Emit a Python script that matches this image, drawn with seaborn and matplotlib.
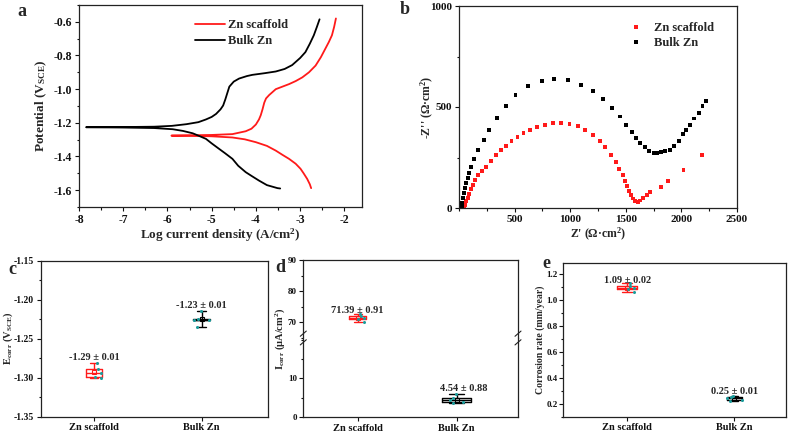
import numpy as np
import pandas as pd
import matplotlib
matplotlib.use("Agg")
import matplotlib.pyplot as plt
from matplotlib.ticker import MultipleLocator, FormatStrFormatter
import seaborn as sns

# ---------------- data ----------------
# (a) potentiodynamic polarization curves, ordered by scan (potential increasing)
bulk_logi = [-3.45, -3.51, -3.75, -3.93, -4.10, -4.23, -4.40, -4.53, -4.70, -4.83, -5.00,
             -5.13, -5.30, -5.43, -5.65, -5.88, -6.30, -7.00, -7.84, -7.00, -6.30, -5.90,
             -5.57, -5.30, -5.13, -5.00, -4.90, -4.80, -4.74, -4.69, -4.64, -4.60, -4.50,
             -4.38, -4.20, -4.08, -3.80, -3.55, -3.35, -3.18, -3.00, -2.88, -2.78, -2.69,
             -2.62, -2.56]
bulk_E = [-1.590, -1.588, -1.570, -1.543, -1.515, -1.493, -1.455, -1.414, -1.380, -1.355, -1.322,
          -1.295, -1.276, -1.262, -1.248, -1.238, -1.231, -1.228, -1.226, -1.225, -1.223, -1.218,
          -1.208, -1.196, -1.180, -1.165, -1.147, -1.120, -1.097, -1.060, -1.018, -0.985, -0.955,
          -0.937, -0.922, -0.915, -0.905, -0.895, -0.880, -0.857, -0.815, -0.780, -0.730, -0.680,
          -0.630, -0.585]
scaf_logi = [-2.75, -2.78, -2.84, -2.92, -2.99, -3.10, -3.25, -3.40, -3.55, -3.75, -4.00,
             -4.25, -4.53, -5.00, -5.50, -5.91, -5.50, -5.00, -4.53, -4.23, -4.10, -4.00,
             -3.93, -3.89, -3.85, -3.81, -3.77, -3.70, -3.55, -3.40, -3.25, -3.10, -2.95,
             -2.80, -2.65, -2.53, -2.43, -2.35, -2.28, -2.23, -2.19]
scaf_E = [-1.588, -1.565, -1.533, -1.500, -1.473, -1.443, -1.414, -1.390, -1.365, -1.337, -1.315,
          -1.298, -1.287, -1.280, -1.277, -1.276, -1.274, -1.272, -1.267, -1.250, -1.235, -1.210,
          -1.180, -1.155, -1.120, -1.080, -1.055, -1.035, -1.000, -0.985, -0.970, -0.952, -0.930,
          -0.900, -0.860, -0.810, -0.760, -0.720, -0.680, -0.630, -0.580]

# (b) Nyquist plots
bulk_zre = [25, 31, 37, 46, 55, 67, 79, 94, 112, 133, 169, 223, 268, 343, 421, 508, 618, 744,
            858, 981, 1098, 1202, 1296, 1379, 1445, 1505, 1553, 1595, 1631, 1669, 1709, 1750,
            1781, 1817, 1855, 1894, 1930, 1975, 2014, 2044, 2080, 2116, 2155, 2190, 2224]
bulk_zim = [3, 25, 50, 75, 100, 125, 150, 175, 205, 242, 288, 337, 388, 445, 503, 558, 603, 628,
            638, 632, 610, 580, 540, 497, 453, 413, 378, 348, 323, 300, 283, 273,
            271, 275, 282, 288, 305, 333, 367, 387, 413, 443, 472, 503, 530]
scaf_zre = [46, 55, 67, 79, 94, 109, 127, 148, 175, 211, 244, 286, 331, 376, 421, 472, 526, 580,
            640, 700, 772, 844, 916, 994, 1066, 1135, 1201, 1264, 1315, 1366, 1408, 1441, 1471,
            1495, 1513, 1528, 1546, 1564, 1585, 1606, 1630, 1657, 1687, 1720, 1816, 1876, 2019, 2189]
scaf_zim = [0, 17, 33, 50, 70, 92, 113, 137, 162, 183, 205, 233, 262, 287, 308, 330, 350, 370,
            387, 400, 413, 420, 422, 418, 407, 388, 362, 333, 300, 263, 228, 195, 163,
            133, 107, 83, 63, 47, 33, 28, 37, 50, 63, 78, 105, 133, 188, 262]

groups = ["Zn scaffold", "Bulk Zn"]
# (c) E_corr
ecorr_scaf = [-1.300, -1.2995, -1.294, -1.289, -1.281]
ecorr_bulk = [-1.235, -1.2265, -1.2258, -1.225, -1.214]
ecorr_text = ["-1.29 ± 0.01", "-1.23 ± 0.01"]
# (d) I_corr
icorr_scaf = [70.0, 71.0, 71.3, 72.0, 72.6]
icorr_bulk = [3.7, 3.8, 4.3, 4.9, 6.0]
icorr_text = ["71.39 ± 0.91", "4.54 ± 0.88"]
# (e) corrosion rate
rate_scaf = [1.064, 1.085, 1.098, 1.110, 1.130]
rate_bulk = [0.220, 0.230, 0.242, 0.253, 0.262]
rate_text = ["1.09 ± 0.02", "0.25 ± 0.01"]

# ---------------- style ----------------
sns.set_theme(style="ticks")
plt.rcParams["font.family"] = ["Liberation Serif", "DejaVu Serif"]
plt.rcParams["font.weight"] = "bold"
plt.rcParams["axes.labelweight"] = "bold"
plt.rcParams["mathtext.fontset"] = "custom"
plt.rcParams["mathtext.rm"] = "Liberation Serif:bold"
plt.rcParams["mathtext.it"] = "Liberation Serif:bold:italic"
plt.rcParams["mathtext.bf"] = "Liberation Serif:bold"
plt.rcParams["axes.linewidth"] = 0.9
plt.rcParams["axes.edgecolor"] = "#222222"

RED = "#ff1a1a"
BLACK = "#000000"
TEAL = "#1a9c9c"

W, H = 789, 433
fig = plt.figure(figsize=(W / 100, H / 100), dpi=100)


def px_axes(l, t, r, b):
    return fig.add_axes([l / W, (H - b) / H, (r - l) / W, (b - t) / H])


def style_ticks(ax, size):
    ax.tick_params(which="both", direction="out", width=0.8, labelsize=size, colors="#111111",
                   top=False, right=False)
    ax.tick_params(which="major", length=3.2, pad=1.5)
    ax.tick_params(which="minor", length=1.8)


# ---------------- (a) ----------------
axa = px_axes(79, 5, 362, 207)
df_a = pd.concat([
    pd.DataFrame({"logi": scaf_logi, "E": scaf_E, "sample": "Zn scaffold"}),
    pd.DataFrame({"logi": bulk_logi, "E": bulk_E, "sample": "Bulk Zn"}),
], ignore_index=True)
sns.lineplot(data=df_a, x="logi", y="E", hue="sample", hue_order=groups,
             palette=[RED, BLACK], sort=False, estimator=None, linewidth=1.3, ax=axa)
axa.set_xlim(-8, -1.6)
axa.set_ylim(-1.7, -0.5)
axa.xaxis.set_major_locator(MultipleLocator(1))
axa.xaxis.set_minor_locator(MultipleLocator(0.5))
axa.yaxis.set_major_locator(MultipleLocator(0.2))
axa.yaxis.set_minor_locator(MultipleLocator(0.1))
axa.yaxis.set_major_formatter(FormatStrFormatter("%.1f"))
axa.xaxis.set_major_formatter(FormatStrFormatter("%d"))
axa.set_yticks([-1.6, -1.4, -1.2, -1.0, -0.8, -0.6])
style_ticks(axa, 8.5)
axa.set_xlabel("Log current density (A/cm$^{2}$)", fontsize=9.5)
axa.set_ylabel("Potential (V$_{\\mathrm{SCE}}$)", fontsize=9.5)
axa.xaxis.set_label_coords(0.5, -0.095)
axa.yaxis.set_label_coords(-0.106, 0.5)
sns.move_legend(axa, "upper left", bbox_to_anchor=(0.37, 0.985), frameon=False, title=None,
                fontsize=9, handlelength=2.4, labelspacing=0.3, handletextpad=0.25)

# ---------------- (b) ----------------
axb = px_axes(459, 6, 737, 208)
df_b = pd.concat([
    pd.DataFrame({"Zr": scaf_zre, "Zi": scaf_zim, "sample": "Zn scaffold"}),
    pd.DataFrame({"Zr": bulk_zre, "Zi": bulk_zim, "sample": "Bulk Zn"}),
], ignore_index=True)
sns.scatterplot(data=df_b, x="Zr", y="Zi", hue="sample", hue_order=groups,
                palette=[RED, BLACK], marker="s", s=8, linewidth=0, ax=axb)
axb.set_xlim(0, 2500)
axb.set_ylim(0, 1000)
axb.set_xticks([500, 1000, 1500, 2000, 2500])
axb.xaxis.set_minor_locator(MultipleLocator(250))
axb.set_yticks([0, 500, 1000])
axb.yaxis.set_minor_locator(MultipleLocator(250))
style_ticks(axb, 8)
axb.set_xlabel("Z' (Ω·cm$^{2}$)", fontsize=8.5)
axb.set_ylabel("-Z'' (Ω·cm$^{2}$)", fontsize=8.5)
axb.xaxis.set_label_coords(0.5, -0.09)
axb.yaxis.set_label_coords(-0.082, 0.5)
sns.move_legend(axb, "upper left", bbox_to_anchor=(0.575, 0.975), frameon=False, title=None,
                fontsize=9, handlelength=1.0, labelspacing=0.25, handletextpad=0.9, markerscale=1.0)


# ---------------- box panels ----------------
def box_panel(ax, scaf, bulk, widths):
    df = pd.DataFrame({"group": [groups[0]] * len(scaf) + [groups[1]] * len(bulk),
                       "value": list(scaf) + list(bulk)})
    for g, c, w in zip(groups, [RED, BLACK], widths):
        sub = df[df["group"] == g]
        sns.boxplot(data=sub, x="group", y="value", order=groups, width=w, whis=(0, 100),
                    fill=False, color=c, linewidth=1.0, showmeans=True,
                    meanprops=dict(marker="s", markersize=2.2, markerfacecolor="none",
                                   markeredgecolor=c, markeredgewidth=0.8), ax=ax)
    np.random.seed(4)
    sns.stripplot(data=df, x="group", y="value", order=groups, color=TEAL, size=2.2,
                  jitter=0.07, linewidth=0, ax=ax)
    ax.set_xlabel("")
    ax.set_ylabel("")


def box_ticks(ax, xlim, ysize=7):
    ax.set_xlim(*xlim)
    style_ticks(ax, ysize)
    for lab in ax.get_xticklabels():
        lab.set_fontsize(7.5)


# (c)
axc = px_axes(40.7, 260.7, 268.3, 416.7)
box_panel(axc, ecorr_scaf, ecorr_bulk, [0.15, 0.16])
axc.set_ylim(-1.35, -1.15)
axc.yaxis.set_major_locator(MultipleLocator(0.05))
axc.yaxis.set_minor_locator(MultipleLocator(0.025))
axc.yaxis.set_major_formatter(FormatStrFormatter("%.2f"))
box_ticks(axc, (-0.5, 1.62))
axc.set_ylabel("E$_{\\mathrm{corr}}$ (V$_{\\mathrm{SCE}}$)", fontsize=7.5)
axc.yaxis.set_label_coords(-0.115, 0.5)
for i, (yv, t) in enumerate(zip([-1.2745, -1.208], ecorr_text)):
    axc.text(i, yv, t, ha="center", va="center", fontsize=7.5, fontweight="bold")

# (d) broken axis
axd_top = px_axes(303.3, 260, 518, 338)
axd_bot = px_axes(303.3, 338, 518, 417)
box_panel(axd_top, icorr_scaf, icorr_bulk, [0.17, 0.29])
box_panel(axd_bot, icorr_scaf, icorr_bulk, [0.17, 0.29])
axd_top.set_ylim(65, 90)
axd_top.set_yticks([70, 80, 90])
axd_top.yaxis.set_minor_locator(MultipleLocator(5))
axd_bot.set_ylim(0, 20.5)
axd_bot.set_yticks([0, 10])
axd_bot.yaxis.set_minor_locator(MultipleLocator(5))
box_ticks(axd_top, (-0.55, 1.62), ysize=6.5)
box_ticks(axd_bot, (-0.55, 1.62), ysize=6.5)
axd_top.spines["bottom"].set_visible(False)
axd_bot.spines["top"].set_visible(False)
axd_top.tick_params(axis="x", which="both", bottom=False, labelbottom=False)
axd_top.text(0, 73.9, icorr_text[0], ha="center", va="center", fontsize=7.5, fontweight="bold")
axd_bot.text(1.07, 7.4, icorr_text[1], ha="center", va="center", fontsize=7.5, fontweight="bold")
# break marks
for xa in (0.0, 1.0):
    for dy in (-0.010, 0.010):
        fig.lines.append(matplotlib.lines.Line2D(
            [(303.3 + xa * 214.7 - 3) / W, (303.3 + xa * 214.7 + 3) / W],
            [(H - 338) / H + dy - 0.006, (H - 338) / H + dy + 0.006],
            transform=fig.transFigure, color="#222222", lw=0.8))
fig.text(280.5 / W, (H - 338.5) / H, "I$_{\\mathrm{corr}}$ (μA/cm$^{2}$)", rotation=90,
         ha="center", va="center", fontsize=7.5, fontweight="bold")

# (e)
axe = px_axes(562.7, 262.7, 786, 416.7)
box_panel(axe, rate_scaf, rate_bulk, [0.19, 0.14])
axe.set_ylim(0.1, 1.29)
axe.set_yticks([0.2, 0.4, 0.6, 0.8, 1.0, 1.2])
axe.yaxis.set_minor_locator(MultipleLocator(0.1))
axe.yaxis.set_major_formatter(FormatStrFormatter("%.1f"))
box_ticks(axe, (-0.6, 1.48), ysize=6.5)
axe.tick_params(axis="y", which="major", length=2.8, pad=1.0)
axe.tick_params(axis="y", which="minor", length=1.5)
fig.text(540 / W, (H - 339.7) / H, "Corrosion rate (mm/year)", rotation=90,
         ha="center", va="center", fontsize=7, fontweight="bold")
for i, (yv, t) in enumerate(zip([1.154, 0.297], rate_text)):
    axe.text(i, yv, t, ha="center", va="center", fontsize=7.5, fontweight="bold")

# panel letters
for t, x, y, s in [("a", 22, 11, 13), ("b", 405, 9, 13), ("c", 12, 270, 13),
                   ("d", 280, 267, 13), ("e", 546, 264, 13)]:
    fig.text(x / W, (H - y) / H, t, ha="center", va="center", fontsize=s, fontweight="bold")

fig.savefig("out.png", dpi=100)
